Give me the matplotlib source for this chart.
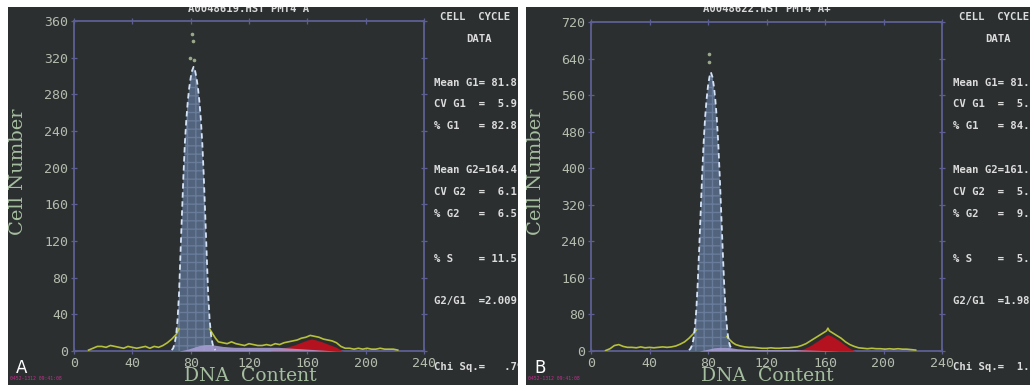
import matplotlib
matplotlib.use("Agg")
import matplotlib.pyplot as plt

# ------------------------------------------------------------------
# data (x = DNA content channel)
# ------------------------------------------------------------------
# panel A: raw histogram (yellow), outside the G1 peak
a_raw_left_x = [10, 13, 16, 19, 22, 25, 28, 31, 34, 37, 40, 43, 46, 49, 52,
                55, 58, 61, 64, 67, 70, 72]
a_raw_left_y = [1, 3, 5, 5, 4, 6, 5, 4, 3, 5, 4, 3, 4, 5, 3,
                5, 4, 6, 9, 13, 18, 24]
a_raw_right_x = [93, 95, 97, 99, 102, 105, 108, 111, 114, 117, 120, 123, 126,
                 129, 132, 135, 138, 141, 144, 147, 150, 153, 156, 159, 162,
                 165, 168, 171, 174, 177, 180, 183, 186, 189, 192, 195, 198,
                 201, 204, 207, 210, 213, 216, 219, 222]
a_raw_right_y = [24, 19, 14, 10, 9, 8, 10, 8, 7, 6, 8, 7, 6,
                 6, 7, 6, 8, 7, 9, 10, 11, 12, 14, 15, 17,
                 16, 15, 13, 12, 11, 9, 5, 3, 3, 2, 3, 2,
                 3, 2, 2, 3, 2, 2, 2, 1]
a_peak_dots_x = [80.7, 81.3, 79.5, 82.3]
a_peak_dots_y = [346, 338, 320, 318]

# panel A: fitted G1, S and G2 components
g1_x = list(range(67, 98))
a_g1_y = [1, 3, 8, 17, 34, 62, 105, 148, 190, 226, 252, 272, 287, 298, 306,
          310, 306, 298, 287, 272, 252, 226, 190, 148, 105, 62, 34, 17, 8, 3, 1]
a_s_x = [72, 78, 82, 86, 90, 94, 98, 102, 110, 120, 130, 140, 150, 160, 170, 180]
a_s_y = [0, 2, 4, 6, 7, 7, 6, 5, 4, 4, 4, 4, 3, 2, 1, 0]
a_g2_x = [135, 140, 145, 150, 155, 160, 163, 166, 170, 175, 180, 183, 185]
a_g2_y = [1, 2, 4, 6, 9, 12, 13, 12, 10, 7, 4, 1, 0]

# panel B
b_raw_left_x = [10, 13, 16, 19, 22, 25, 28, 31, 34, 37, 40, 43, 46, 49, 52,
                55, 58, 61, 64, 67, 70, 72]
b_raw_left_y = [1, 5, 12, 14, 10, 8, 8, 7, 9, 7, 8, 7, 8, 9, 8,
                9, 11, 15, 20, 28, 38, 46]
b_raw_right_x = [93, 95, 97, 99, 102, 105, 108, 111, 114, 117, 120, 123, 126,
                 129, 132, 135, 138, 141, 144, 147, 150, 153, 156, 159, 161,
                 162, 163, 165, 168, 171, 174, 177, 180, 183, 186, 189, 192,
                 195, 198, 201, 204, 207, 210, 213, 216, 219, 222]
b_raw_right_y = [32, 24, 18, 14, 11, 9, 8, 8, 7, 6, 6, 7, 6,
                 6, 7, 7, 8, 9, 12, 16, 22, 28, 34, 40, 44,
                 50, 44, 40, 34, 28, 20, 14, 10, 7, 6, 5, 6,
                 5, 5, 4, 5, 4, 5, 4, 4, 3, 2]
b_peak_dots_x = [80.9, 81.0]
b_peak_dots_y = [650, 633]

b_g1_y = [2, 5, 12, 25, 50, 90, 150, 225, 305, 385, 455, 510, 550, 580, 600,
          610, 600, 580, 550, 510, 455, 385, 305, 225, 150, 90, 50, 25, 12, 5, 2]
b_s_x = [74, 80, 84, 88, 92, 96, 100, 110, 120, 130, 140, 150, 160, 170]
b_s_y = [0, 4, 7, 8, 8, 7, 5, 3, 3, 3, 3, 2, 1, 0]
b_g2_x = [140, 145, 150, 155, 160, 162, 165, 170, 175, 178, 181]
b_g2_y = [1, 4, 12, 22, 33, 36, 32, 22, 10, 4, 0]

# text of the two panels
titles = ["A0048619.HST PMT4 A", "A0048622.HST PMT4 A+"]
panel_tags = ["A", "B"]
y_max = [360, 720]
y_step = [40, 80]
stats_a = ["Mean G1= 81.8", "CV G1  =  5.9", "% G1   = 82.8",
           "Mean G2=164.4", "CV G2  =  6.1", "% G2   =  6.5",
           "% S    = 11.5", "G2/G1  =2.009", "Chi Sq.=   .79"]
stats_b = ["Mean G1= 81.5", "CV G1  =  5.4", "% G1   = 84.9",
           "Mean G2=161.4", "CV G2  =  5.2", "% G2   =  9.6",
           "% S    =  5.5", "G2/G1  =1.980", "Chi Sq.=  1.12"]

# ------------------------------------------------------------------
# styling
# ------------------------------------------------------------------
W, H = 1030, 385
BG = '#2b2f30'
SPINE = '#5d5f94'
TICK_TXT = '#b4bcae'
LABEL_TXT = '#a6bea0'
STAT_TXT = '#dcdcdc'


def fx(px):
    return px / W


def fy(py):
    return 1 - py / H


fig = plt.figure(figsize=(W / 100, H / 100), dpi=100, facecolor='white')

panels = [
    dict(bg=(8, 518), ax=(74, 424, 21, 351), stat_x=434,
         raw=[(a_raw_left_x, a_raw_left_y), (a_raw_right_x, a_raw_right_y)],
         dots=(a_peak_dots_x, a_peak_dots_y), g1=a_g1_y,
         s=(a_s_x, a_s_y), g2=(a_g2_x, a_g2_y), stats=stats_a),
    dict(bg=(526, 1030), ax=(591, 942, 22, 351), stat_x=953,
         raw=[(b_raw_left_x, b_raw_left_y), (b_raw_right_x, b_raw_right_y)],
         dots=(b_peak_dots_x, b_peak_dots_y), g1=b_g1_y,
         s=(b_s_x, b_s_y), g2=(b_g2_x, b_g2_y), stats=stats_b),
]

stat_rows = [83, 104, 126, 170, 192, 214, 259, 301, 367]

for i, p in enumerate(panels):
    x0, x1 = p['bg']
    bg = fig.add_axes([fx(x0), 0, fx(x1 - x0), fy(7)], zorder=0)
    bg.set_facecolor(BG)
    bg.set_xticks([])
    bg.set_yticks([])
    for sp in bg.spines.values():
        sp.set_visible(False)
    bg.set_xlim(x0, x1)
    bg.set_ylim(H, 7)

    def ptext(x, y, s, **kw):
        bg.text(x, y, s, transform=bg.transData, clip_on=True, **kw)

    mono = dict(family='DejaVu Sans Mono', weight='bold', fontsize=7.7,
                color=STAT_TXT, va='center')
    # header, stats column, axis labels, tag
    ptext((p['ax'][0] + p['ax'][1]) / 2, 9, titles[i], ha='center', **mono)
    ptext(p['stat_x'] + 6, 17, "CELL  CYCLE", ha='left', **mono)
    ptext(p['stat_x'] + 45, 39, "DATA", ha='center', **mono)
    for row, s in zip(stat_rows, p['stats']):
        ptext(p['stat_x'], row, s, ha='left', **mono)
    ptext((p['ax'][0] + p['ax'][1]) / 2 + 1, 381, "DNA  Content", ha='center',
          va='baseline', family='DejaVu Serif', fontsize=13.5, color=LABEL_TXT)
    ptext(x0 + 10, 172, "Cell Number", ha='center', va='center', rotation=90,
          family='DejaVu Serif', fontsize=14, color=LABEL_TXT)
    ptext(x0 + 14, 368, panel_tags[i], ha='center', va='center',
          family='DejaVu Sans', fontsize=12, color='white')
    ptext(x0 + 2, 378, "0452-1312 09:41:08", ha='left', va='center',
          family='DejaVu Sans Mono', fontsize=3.5, color='#c0308c')

    # histogram axes
    l, r, t, b = p['ax']
    ax = fig.add_axes([fx(l), fy(b), fx(r - l), (b - t) / H], zorder=2)
    ax.set_facecolor('none')
    ax.set_xlim(0, 240)
    ax.set_ylim(0, y_max[i])

    ax.fill_between(p['g2'][0], p['g2'][1], color='#b4121e', lw=0, zorder=3)
    ax.fill_between(g1_x, p['g1'], facecolor='#52637e', edgecolor='#687b98',
                    hatch='++', lw=0, zorder=3)
    ax.fill_between(p['s'][0], p['s'][1], color='#a99fd6', alpha=0.85, lw=0,
                    zorder=3.5)
    ax.plot(g1_x, p['g1'], color='#d4e2f6', lw=1.3, dashes=(3, 2), zorder=5)
    for rx, ry in p['raw']:
        ax.plot(rx, ry, color='#b6c03a', lw=1.2, zorder=4)
    ax.plot(p['dots'][0], p['dots'][1], ls='none', marker='o', ms=1.6,
            color='#9aa88a', zorder=5)

    ax.set_xticks(range(0, 241, 40))
    ax.set_yticks(range(0, y_max[i] + 1, y_step[i]))
    ax.tick_params(direction='inout', length=5, width=0.9, color=SPINE,
                   top=True, right=True, labelsize=9.5, labelcolor=TICK_TXT,
                   pad=1.5)
    for lab in ax.get_xticklabels() + ax.get_yticklabels():
        lab.set_family('DejaVu Sans Mono')
    for sp in ax.spines.values():
        sp.set_color(SPINE)
        sp.set_linewidth(1.3)

fig.savefig('out.png', dpi=100, facecolor='white')
